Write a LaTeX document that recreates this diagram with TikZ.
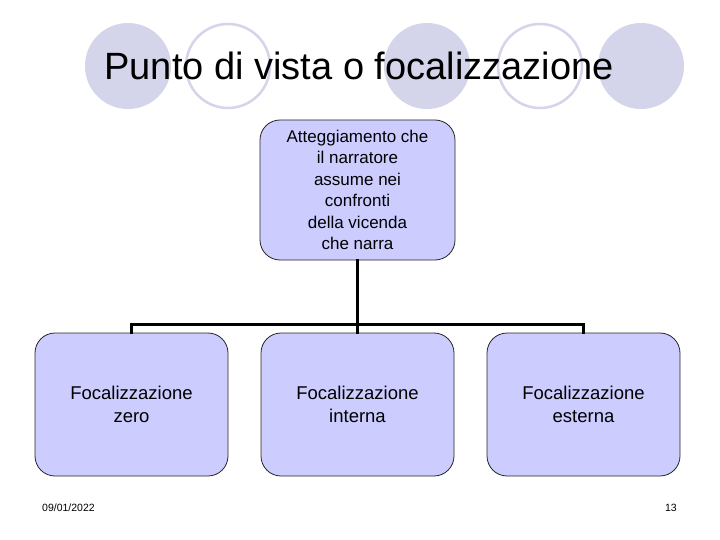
\documentclass[tikz,border=0pt]{standalone}
\usepackage{fontspec}
\setmainfont{Liberation Sans}
\definecolor{circfill}{RGB}{212,212,234}
\definecolor{boxfill}{RGB}{204,204,255}
\begin{document}
\begin{tikzpicture}[x=1pt,y=-1pt,
  filledcirc/.style={circle,fill=circfill,draw=none,minimum size=86pt,inner sep=0pt},
  ringcirc/.style={circle,fill=white,draw=circfill,line width=2.5pt,minimum size=84pt,inner sep=0pt},
  bbox/.style={draw=black!85,line width=0.8pt,fill=boxfill,rounded corners=20pt,
    minimum width=193pt,minimum height=143pt,align=center,inner sep=0pt,
    font=\fontsize{18.5}{23}\selectfont},
  tbox/.style={draw=black!85,line width=0.8pt,fill=boxfill,rounded corners=20pt,
    minimum width=195pt,minimum height=140pt,align=center,inner sep=0pt,
    font=\fontsize{17}{21.5}\selectfont},
  conn/.style={line width=3pt,line cap=rect}]
\useasboundingbox (0,0) rectangle (720,540);
\fill[white] (0,0) rectangle (720,540);
\node[filledcirc] (c1) at (128,66) {};
\node[ringcirc] (c2) at (228,66) {};
\node[filledcirc] (c3) at (427,66) {};
\node[ringcirc] (c4) at (540,66) {};
\node[filledcirc] (c5) at (641,66) {};
\node[anchor=base,inner sep=0pt,font=\fontsize{38}{40}\selectfont] (title) at (359,80) {Punto di vista o focalizzazione};
\node[tbox] (top) at (357.5,190) {Atteggiamento che\\il narratore\\assume nei\\confronti\\della vicenda\\che narra};
\node[bbox] (b1) at (131.5,404.5) {Focalizzazione\\zero};
\node[bbox] (b2) at (357.5,404.5) {Focalizzazione\\interna};
\node[bbox] (b3) at (583.5,404.5) {Focalizzazione\\esterna};
\coordinate (j) at (357.5,324.5);
\draw[conn] (top.south) -- (j);
\draw[conn] (b1.north) -- (b1.north |- j) -- (b3.north |- j) -- (b3.north);
\draw[conn] (j) -- (b2.north);
\node[anchor=base west,inner sep=0pt,font=\fontsize{10.5}{12}\selectfont] (date) at (42,511) {09/01/2022};
\node[anchor=base east,inner sep=0pt,font=\fontsize{10.5}{12}\selectfont] (page) at (677,511) {13};
\end{tikzpicture}
\end{document}
